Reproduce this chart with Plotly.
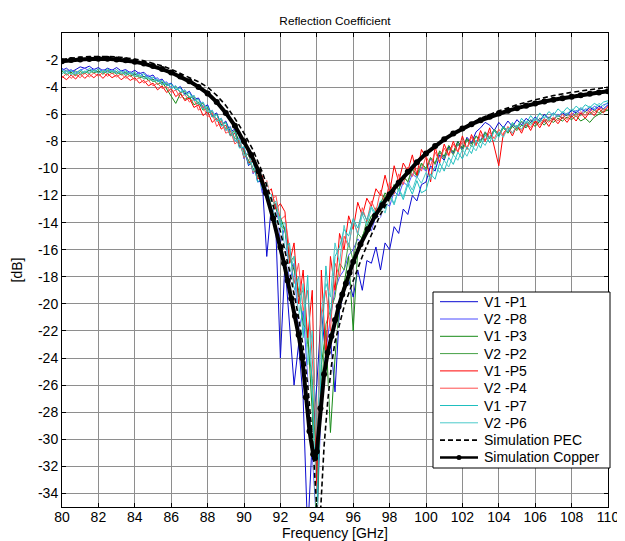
import plotly.graph_objects as go

# ---------------- data ----------------
F_START = 80.0
F_STEP = 0.25
N_MEAS = 121
FREQ_MEAS = [F_START + F_STEP * i for i in range(N_MEAS)]

V1_P1 = [-2.75, -2.6, -2.9, -2.7, -2.5, -2.6, -2.45, -2.7, -2.55, -2.8,
         -2.6, -2.75, -2.55, -2.8, -2.7, -2.95, -2.75, -3.0, -2.9, -3.25,
         -3.1, -3.55, -3.4, -3.85, -3.7, -4.2, -3.95, -4.5, -4.3, -4.9,
         -4.8, -5.5, -5.3, -6.1, -5.9, -6.8, -6.5, -7.3, -7.1, -8.4,
         -8.5, -9.8, -9.4, -11.0, -10.9, -16.5, -12.8, -14.5, -24.0, -17.0,
         -21.5, -26.0, -23.0, -27.0, -37.0, -30.0, -26.0, -20.5, -24.0, -22.5,
         -26.5, -20.5, -19.0, -18.2, -19.5, -17.5, -19.0, -16.8, -17.0, -15.8,
         -17.5, -15.5, -16.0, -14.3, -14.8, -13.0, -13.4, -12.0, -12.4, -11.2,
         -11.0, -9.8, -10.2, -9.0, -9.4, -8.4, -8.9, -8.0, -8.6, -7.7,
         -8.1, -7.3, -7.0, -6.6, -6.8, -7.2, -6.6, -7.0, -6.5, -6.9,
         -6.4, -6.8, -6.3, -6.6, -6.2, -6.5, -6.0, -6.3, -5.9, -6.2,
         -5.9, -6.1, -5.7, -5.9, -5.6, -5.8, -5.5, -5.7, -5.4, -5.6,
         -5.3]

V2_P8 = [-2.6, -2.85, -2.7, -2.95, -2.75, -2.6, -2.8, -2.65, -2.9, -2.7,
         -2.85, -2.7, -2.95, -2.75, -3.0, -2.85, -3.1, -2.9, -3.25, -3.1,
         -3.45, -3.3, -3.75, -3.6, -4.05, -3.9, -4.4, -4.2, -4.8, -4.6,
         -5.3, -5.1, -5.9, -5.7, -6.5, -6.3, -7.2, -6.9, -8.0, -7.7,
         -9.3, -8.7, -10.4, -9.9, -11.8, -11.3, -13.5, -12.6, -15.5, -14.3,
         -18.5, -17.0, -22.0, -20.5, -25.5, -31.0, -36.5, -27.0, -23.5, -21.0,
         -19.0, -18.0, -17.5, -16.4, -16.0, -15.2, -15.6, -14.3, -14.6, -13.5,
         -13.6, -12.5, -12.8, -11.7, -12.0, -11.0, -11.3, -10.4, -10.7, -9.9,
         -10.2, -9.3, -9.7, -8.8, -9.2, -8.5, -8.9, -8.2, -8.6, -7.9,
         -8.2, -7.6, -7.9, -7.3, -7.7, -7.1, -7.5, -6.9, -7.3, -6.8,
         -7.0, -6.6, -6.9, -6.4, -6.7, -6.3, -6.6, -6.2, -6.4, -6.0,
         -6.3, -5.9, -6.1, -5.7, -6.0, -5.6, -5.8, -5.4, -5.6, -5.3,
         -5.2]

V1_P3 = [-2.8, -3.1, -2.9, -3.15, -2.85, -3.0, -2.75, -2.95, -2.8, -3.05,
         -2.75, -3.0, -2.85, -3.1, -2.9, -3.2, -3.0, -3.3, -3.2, -3.5,
         -3.4, -3.8, -3.6, -4.1, -4.6, -5.2, -4.5, -4.9, -4.7, -5.3,
         -5.1, -5.7, -5.5, -6.2, -6.0, -6.8, -6.6, -7.5, -7.2, -8.1,
         -8.8, -9.4, -9.9, -10.6, -10.8, -11.8, -12.2, -13.0, -13.6, -14.6,
         -16.5, -17.5, -19.0, -21.5, -22.0, -28.0, -37.0, -24.5, -22.0, -29.5,
         -24.0, -20.0, -18.5, -16.5, -22.0, -16.0, -15.0, -14.2, -13.5, -13.2,
         -12.6, -11.8, -12.3, -11.2, -11.6, -10.6, -11.0, -10.0, -10.5, -9.6,
         -10.0, -9.2, -9.6, -8.7, -9.1, -8.3, -8.8, -8.0, -8.5, -7.8,
         -8.2, -7.6, -8.0, -7.4, -7.8, -7.2, -7.6, -7.0, -7.4, -6.9,
         -7.2, -6.8, -7.0, -6.6, -6.9, -6.5, -6.8, -6.4, -6.6, -6.3,
         -6.5, -6.2, -6.4, -6.1, -6.5, -6.3, -6.6, -6.2, -6.0, -5.8,
         -5.7]

V2_P2 = [-3.0, -2.75, -3.05, -2.8, -3.1, -2.85, -3.0, -2.75, -2.95, -2.8,
         -3.0, -2.8, -3.05, -2.85, -3.15, -2.95, -3.25, -3.1, -3.4, -3.3,
         -3.6, -3.45, -3.85, -3.7, -4.1, -3.95, -4.4, -4.3, -4.8, -4.7,
         -5.3, -5.2, -5.9, -5.8, -6.5, -6.4, -7.1, -7.0, -7.8, -7.9,
         -9.2, -8.9, -10.1, -10.0, -11.4, -11.2, -12.8, -12.6, -14.2, -14.5,
         -17.0, -16.5, -19.5, -19.0, -23.0, -25.5, -33.0, -26.5, -21.5, -20.5,
         -19.5, -17.0, -17.5, -15.5, -16.8, -14.8, -15.2, -13.8, -14.2, -12.9,
         -13.2, -12.0, -12.4, -11.2, -11.6, -10.5, -11.0, -10.1, -10.6, -9.7,
         -10.1, -9.2, -9.7, -8.8, -9.3, -8.5, -9.0, -8.2, -8.7, -7.9,
         -8.4, -7.6, -8.1, -7.3, -7.8, -7.1, -7.5, -6.9, -7.3, -6.7,
         -7.1, -6.5, -6.9, -6.4, -6.7, -6.3, -6.6, -6.2, -6.4, -6.1,
         -6.3, -6.0, -6.2, -5.9, -6.1, -5.8, -6.0, -5.7, -5.9, -5.6,
         -5.7]

V1_P5 = [-3.2, -3.45, -3.1, -3.4, -3.0, -3.35, -3.05, -3.3, -3.0, -3.35,
         -3.0, -3.3, -3.1, -3.45, -3.2, -3.5, -3.3, -3.7, -3.5, -3.9,
         -3.7, -4.2, -3.9, -4.4, -4.1, -4.7, -4.4, -5.0, -4.8, -5.5,
         -5.3, -6.1, -5.8, -6.6, -6.3, -7.1, -6.8, -7.6, -7.4, -8.4,
         -8.6, -9.6, -9.4, -10.8, -10.5, -11.9, -11.5, -13.0, -12.6, -13.2,
         -17.0, -15.5, -20.0, -17.5, -22.5, -19.0, -34.0, -17.5, -24.0, -16.5,
         -19.0, -14.8, -16.0, -13.5, -14.5, -12.5, -13.5, -12.2, -12.8, -11.5,
         -12.0, -10.5, -11.8, -9.8, -11.0, -9.6, -10.2, -9.0, -10.5, -8.6,
         -9.2, -11.0, -8.4, -9.6, -8.2, -9.0, -8.0, -8.8, -7.6, -8.6,
         -7.5, -8.3, -7.2, -8.0, -7.0, -8.4, -9.8, -7.4, -7.0, -7.6,
         -6.8, -7.4, -6.6, -7.2, -6.5, -7.0, -6.4, -6.9, -6.3, -6.7,
         -6.2, -6.6, -6.1, -6.5, -5.9, -6.3, -5.8, -6.1, -5.6, -5.9,
         -5.4]

V2_P4 = [-3.3, -3.0, -3.35, -3.05, -3.3, -2.95, -3.25, -2.95, -3.2, -2.9,
         -3.2, -2.95, -3.25, -3.0, -3.35, -3.1, -3.5, -3.3, -3.7, -3.5,
         -3.9, -3.7, -4.1, -3.95, -4.4, -4.2, -4.8, -4.5, -5.1, -4.9,
         -5.7, -5.4, -6.2, -5.9, -6.9, -6.5, -7.4, -7.2, -8.2, -7.9,
         -9.2, -8.8, -10.3, -9.8, -11.3, -10.9, -12.4, -12.0, -13.8, -13.5,
         -16.0, -18.5, -17.0, -20.5, -19.0, -24.0, -30.0, -21.0, -19.0, -22.0,
         -17.0, -18.0, -15.0, -15.8, -13.8, -14.8, -12.9, -13.9, -12.4, -13.2,
         -11.6, -12.6, -11.0, -11.9, -10.4, -11.2, -9.9, -10.6, -9.5, -10.2,
         -9.1, -9.8, -8.8, -9.5, -8.5, -9.1, -8.2, -8.8, -8.0, -8.5,
         -7.7, -8.3, -7.5, -8.0, -7.3, -7.8, -7.1, -7.6, -6.9, -7.4,
         -6.8, -7.2, -6.6, -7.0, -6.4, -6.8, -6.3, -6.6, -6.2, -6.5,
         -6.0, -6.4, -5.9, -6.2, -5.8, -6.1, -5.6, -5.9, -5.5, -5.7,
         -5.5]

V1_P7 = [-2.7, -3.0, -2.75, -3.05, -2.7, -2.95, -2.6, -2.9, -2.65, -2.95,
         -2.65, -2.9, -2.7, -3.0, -2.8, -3.05, -2.9, -3.2, -3.0, -3.4,
         -3.25, -3.6, -3.5, -3.9, -3.75, -4.2, -4.05, -4.6, -4.4, -5.0,
         -4.9, -5.6, -5.4, -6.2, -6.0, -6.9, -6.6, -7.6, -7.3, -8.5,
         -8.4, -9.7, -9.5, -11.0, -10.7, -12.3, -11.9, -14.0, -13.5, -16.0,
         -15.5, -19.0, -18.0, -22.5, -17.9, -27.0, -35.5, -24.0, -17.2, -21.0,
         -16.5, -15.8, -14.5, -15.0, -13.7, -14.4, -13.2, -13.8, -12.8, -13.4,
         -12.4, -13.0, -11.9, -12.6, -11.5, -12.3, -11.2, -11.9, -10.9, -11.8,
         -11.6, -10.4, -10.8, -9.6, -10.2, -9.2, -9.7, -8.8, -9.3, -8.4,
         -8.9, -7.9, -8.5, -7.5, -8.1, -7.2, -7.7, -6.9, -7.3, -6.6,
         -7.0, -6.3, -6.7, -6.1, -6.5, -5.9, -6.3, -5.8, -6.1, -5.6,
         -5.9, -5.5, -5.8, -5.4, -5.7, -5.3, -5.5, -5.2, -5.4, -5.1,
         -5.0]

V2_P6 = [-3.0, -2.8, -3.1, -2.85, -3.05, -2.8, -2.95, -2.7, -3.0, -2.75,
         -2.95, -2.75, -3.0, -2.8, -3.1, -2.9, -3.2, -3.05, -3.35, -3.25,
         -3.55, -3.4, -3.8, -3.65, -4.1, -3.9, -4.35, -4.2, -4.75, -4.6,
         -5.25, -5.1, -5.85, -5.7, -6.5, -6.3, -7.2, -7.0, -8.0, -7.8,
         -9.1, -8.8, -10.2, -9.9, -11.5, -11.0, -12.9, -12.4, -14.3, -14.0,
         -17.8, -16.5, -21.0, -18.5, -24.5, -22.0, -31.0, -20.5, -18.5, -19.5,
         -15.5, -17.0, -14.2, -15.8, -13.8, -14.9, -13.4, -14.2, -12.9, -13.7,
         -12.6, -13.3, -12.0, -12.7, -11.5, -12.1, -11.0, -11.6, -10.6, -11.1,
         -10.3, -10.8, -9.8, -10.3, -9.4, -9.9, -9.0, -9.4, -8.6, -9.1,
         -8.3, -8.7, -7.9, -8.3, -7.6, -8.0, -7.3, -7.7, -7.0, -7.4,
         -6.8, -7.1, -6.5, -6.8, -6.3, -6.6, -6.1, -6.4, -5.9, -6.2,
         -5.8, -6.0, -5.6, -5.8, -5.5, -5.7, -5.4, -5.6, -5.2, -5.4,
         -5.1]

PEC_F = [80, 80.5, 81, 81.5, 82, 82.5, 83, 83.5, 84, 84.5,
         85, 85.5, 86, 86.5, 87, 87.5, 88, 88.5, 89, 89.5,
         90, 90.5, 91, 91.5, 92, 92.5, 93, 93.25, 93.5, 93.75,
         94.0, 94.1, 94.2, 94.4, 94.6, 94.8, 95.0, 95.5, 96, 96.5,
         97, 97.5, 98, 98.5, 99, 99.5, 100, 101, 102, 103,
         104, 105, 106, 107, 108, 109, 110]
PEC_V = [-1.95, -1.85, -1.78, -1.74, -1.72, -1.73, -1.76, -1.82, -1.92, -2.05,
         -2.22, -2.43, -2.68, -2.98, -3.28, -3.6, -4.0, -4.6, -5.35, -6.3,
         -7.4, -8.65, -10.25, -12.25, -14.65, -17.55, -21.0, -23.2, -26.0, -29.8,
         -35.0, -38.0, -35.5, -30.5, -27.2, -24.6, -22.8, -20.2, -18.3, -16.5,
         -14.9, -13.4, -12.2, -11.2, -10.35, -9.6, -8.95, -7.85, -7.0, -6.3,
         -5.75, -5.3, -4.93, -4.62, -4.38, -4.17, -4.0]

CU_F = [80, 80.5, 81, 81.5, 82, 82.5, 83, 83.5, 84, 84.5,
        85, 85.5, 86, 86.5, 87, 87.5, 88, 88.5, 89, 89.5,
        90, 90.4, 90.8, 91.2, 91.6, 92.0, 92.2, 92.4, 92.6, 92.8,
        93.0, 93.2, 93.4, 93.6, 93.8, 93.9, 94.0, 94.2, 94.4, 94.6,
        94.8, 95.0, 95.2, 95.4, 95.6, 95.8, 96.0, 96.4, 96.8, 97.2,
        97.6, 98.0, 98.5, 99, 99.5, 100, 100.5, 101, 101.5, 102,
        102.5, 103, 103.5, 104, 104.5, 105, 105.5, 106, 106.5, 107,
        107.5, 108, 108.5, 109, 109.5, 110]
CU_V = [-2.08, -2.0, -1.95, -1.92, -1.9, -1.91, -1.95, -2.02, -2.12, -2.26,
        -2.44, -2.66, -2.92, -3.22, -3.57, -3.98, -4.46, -5.1, -5.9, -6.85,
        -8.0, -9.0, -10.2, -11.8, -13.7, -15.8, -17.0, -18.3, -19.6, -20.9,
        -22.3, -24.0, -26.9, -29.4, -31.1, -31.4, -30.9, -27.7, -25.2, -23.6,
        -22.4, -21.2, -20.2, -19.3, -18.5, -17.7, -16.9, -15.6, -14.5, -13.5,
        -12.7, -11.9, -11.05, -10.25, -9.55, -8.9, -8.35, -7.85, -7.43, -7.05,
        -6.73, -6.45, -6.19, -5.95, -5.74, -5.55, -5.37, -5.2, -5.06, -4.93,
        -4.81, -4.7, -4.59, -4.48, -4.39, -4.3]

X_TICKS = [80, 82, 84, 86, 88, 90, 92, 94, 96, 98, 100, 102, 104, 106, 108, 110]
Y_TICKS = [-34, -32, -30, -28, -26, -24, -22, -20, -18, -16, -14, -12, -10, -8, -6, -4, -2]

MEAS_NAMES = ["V1 -P1", "V2 -P8", "V1 -P3", "V2 -P2", "V1 -P5", "V2 -P4", "V1 -P7", "V2 -P6"]
MEAS_DATA = [V1_P1, V2_P8, V1_P3, V2_P2, V1_P5, V2_P4, V1_P7, V2_P6]
MEAS_COLORS = ["#0a0ad2", "#4b4bff", "#178a17", "#45a045", "#ff0000", "#ff4d4d", "#1fbfbf", "#4ccaca"]
SIM_NAMES = ["Simulation PEC", "Simulation Copper"]

TITLE_TEXT = "Reflection Coefficient"
X_TITLE = "Frequency [GHz]"
Y_TITLE = "[dB]"

# ---------------- geometry (window pixels; page body has an 8px margin) ----------------
PAGE_OFF = 8
PLOT_L, PLOT_R, PLOT_T, PLOT_B = 62, 608, 33, 507
FIG_W, FIG_H = 625 - PAGE_OFF, 541 - PAGE_OFF
PW, PH = PLOT_R - PLOT_L, PLOT_B - PLOT_T


def px(xp):
    return (xp - PLOT_L) / PW


def py(yp):
    return (PLOT_B - yp) / PH


# ---------------- figure ----------------
fig = go.Figure()

for name, vals, col in zip(MEAS_NAMES, MEAS_DATA, MEAS_COLORS):
    fig.add_trace(go.Scatter(x=FREQ_MEAS, y=vals, mode="lines", name=name,
                             showlegend=False, line=dict(color=col, width=1)))

fig.add_trace(go.Scatter(x=PEC_F, y=PEC_V, mode="lines", showlegend=False,
                         hoverinfo="skip", line=dict(color="white", width=1.6)))
fig.add_trace(go.Scatter(x=PEC_F, y=PEC_V, mode="lines", name=SIM_NAMES[0], showlegend=False,
                         line=dict(color="black", width=1.6, dash="5px,3px")))
fig.add_trace(go.Scatter(x=CU_F, y=CU_V, mode="lines+markers", name=SIM_NAMES[1], showlegend=False,
                         line=dict(color="black", width=4),
                         marker=dict(color="black", size=6, symbol="circle")))

# ---------------- legend box (drawn as shapes + annotations) ----------------
shapes = [dict(type="rect", xref="paper", yref="paper", x0=px(433), x1=px(610),
               y0=py(468), y1=py(292), fillcolor="white", line=dict(color="black", width=1),
               layer="above")]
annotations = []
legend_items = [(n, c, "solid", 1) for n, c in zip(MEAS_NAMES, MEAS_COLORS)]
legend_items += [(SIM_NAMES[0], "black", "5px,3px", 1.6), (SIM_NAMES[1], "black", "solid", 2.5)]
for i, (name, col, dash, w) in enumerate(legend_items):
    yc = 301.7 + 17.3 * i
    shapes.append(dict(type="line", xref="paper", yref="paper", x0=px(440), x1=px(478),
                       y0=py(yc), y1=py(yc), line=dict(color=col, width=w, dash=dash),
                       layer="above"))
    if name == SIM_NAMES[1]:
        shapes.append(dict(type="circle", xref="paper", yref="paper",
                           x0=px(456.5), x1=px(461.5), y0=py(yc + 2.5), y1=py(yc - 2.5),
                           fillcolor="black", line=dict(color="black", width=0), layer="above"))
    annotations.append(dict(text=name, xref="paper", yref="paper", x=px(482), y=py(yc),
                            xanchor="left", yanchor="middle", showarrow=False,
                            font=dict(size=14, color="black")))

# x-axis title placed just under the tick labels
annotations.append(dict(text=X_TITLE, xref="paper", yref="paper", x=0.5, y=py(533),
                        xanchor="center", yanchor="middle", showarrow=False,
                        font=dict(size=14, color="black")))

axis_common = dict(showline=True, linecolor="black", linewidth=1, mirror="ticks",
                   ticks="inside", ticklen=4, tickcolor="black", showgrid=True,
                   gridcolor="#8e8e8e", gridwidth=1, zeroline=False,
                   tickfont=dict(size=14, color="black"))

fig.update_xaxes(range=[80, 110], tickmode="array", tickvals=X_TICKS,
                 ticktext=[str(v) for v in X_TICKS], ticklabelstandoff=-3,
                 **axis_common)
fig.update_yaxes(range=[-35, 0], tickmode="array", tickvals=Y_TICKS,
                 ticktext=[str(v) for v in Y_TICKS],
                 title=dict(text=Y_TITLE, font=dict(size=14), standoff=12),
                 **axis_common)

fig.update_layout(
    width=FIG_W, height=FIG_H,
    margin=dict(l=PLOT_L - PAGE_OFF, r=625 - PLOT_R, t=PLOT_T - PAGE_OFF,
                b=541 - PLOT_B, autoexpand=False),
    paper_bgcolor="white", plot_bgcolor="white",
    font=dict(family="Liberation Sans, Arial, Helvetica, sans-serif", size=14, color="black"),
    title=dict(text=TITLE_TEXT, font=dict(size=11.8),
               x=(335 - PAGE_OFF) / FIG_W, xanchor="center",
               y=1 - (21 - PAGE_OFF) / FIG_H, yanchor="middle"),
    shapes=shapes, annotations=annotations,
    showlegend=False,
)

fig.write_html("out.html")
